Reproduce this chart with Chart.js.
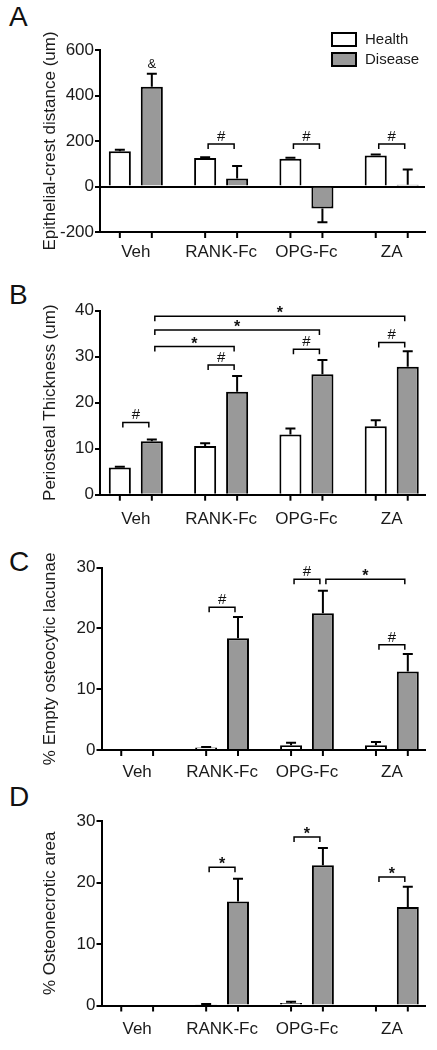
<!DOCTYPE html>
<html>
<head>
<meta charset="utf-8">
<script src="https://cdn.jsdelivr.net/npm/chart.js@4.4.1/dist/chart.umd.min.js"></script>
<style>
  body { margin: 0; background: #fff; width: 437px; height: 1050px; position: relative; overflow: hidden; }
  canvas { position: absolute; left: 0; }
  .letter { position: absolute; left: 9px; font: 28px/28px "Liberation Sans", Arial, sans-serif; color: #111; }
</style>
</head>
<body>
<div class="letter" style="top:3px">A</div>
<div class="letter" style="top:281px">B</div>
<div class="letter" style="top:548px">C</div>
<div class="letter" style="top:783px">D</div>
<canvas id="chartA" width="437" height="265" style="top:0px"></canvas>
<canvas id="chartB" width="437" height="265" style="top:265px"></canvas>
<canvas id="chartC" width="437" height="260" style="top:530px"></canvas>
<canvas id="chartD" width="437" height="260" style="top:790px"></canvas>
<script>
const groups = ['Veh', 'RANK-Fc', 'OPG-Fc', 'ZA'];
const seriesNames = ['Health', 'Disease'];

// A - epithelial-crest distance (um)
const crestHealth = [155, 125, 122, 136];
const crestHealthErr = [6, 4, 4, 5];
const crestDisease = [438, 35, -97, 8];
const crestDiseaseErr = [58, 55, 60, 67];
const crestTicks = [-200, 0, 200, 400, 600];

// B - periosteal thickness (um)
const thickHealth = [5.9, 10.6, 13.1, 14.9];
const thickHealthErr = [0.2, 0.6, 1.3, 1.3];
const thickDisease = [11.6, 22.4, 26.2, 27.8];
const thickDiseaseErr = [0.4, 3.4, 3.1, 3.4];
const thickTicks = [0, 10, 20, 30, 40];

// C - % empty osteocytic lacunae
const lacunaeHealth = [0, 0.4, 0.8, 0.8];
const lacunaeHealthErr = [0, 0.1, 0.4, 0.5];
const lacunaeDisease = [0, 18.4, 22.5, 12.9];
const lacunaeDiseaseErr = [0, 3.5, 3.7, 2.9];

// D - % osteonecrotic area
const necroHealth = [0, 0.2, 0.4, 0];
const necroHealthErr = [0, 0.05, 0.2, 0];
const necroDisease = [0, 16.9, 22.8, 16.0];
const necroDiseaseErr = [0, 3.7, 2.8, 3.3];
const pctTicks = [0, 10, 20, 30];

// significance marks: [group1, series1, group2, series2, level, mark]
const crestMarks = [[1, 0, 1, 1, 187, '#'], [2, 0, 2, 1, 187, '#'], [3, 0, 3, 1, 187, '#']];
const crestNotes = [[0, 1, 520, '&']];
const thickMarks = [
  [0, 0, 0, 1, 15.7, '#'], [1, 0, 1, 1, 28.2, '#'], [2, 0, 2, 1, 31.6, '#'], [3, 0, 3, 1, 33.1, '#'],
  [0, 1, 1, 1, 32.2, '*'], [0, 1, 2, 1, 35.8, '*'], [0, 1, 3, 1, 38.8, '*']
];
const lacunaeMarks = [[1, 0, 1, 1, 23.5, '#'], [2, 0, 2, 1, 28.1, '#'], [2, 1, 3, 1, 28.1, '*'], [3, 0, 3, 1, 17.3, '#']];
const necroMarks = [[1, 0, 1, 1, 22.5, '*'], [2, 0, 2, 1, 27.4, '*'], [3, 0, 3, 1, 20.9, '*']];

const FONT = '"Liberation Sans", Arial, sans-serif';
Chart.defaults.font.family = FONT;
Chart.defaults.color = '#1a1a1a';

const extras = {
  id: 'extras',
  afterDraw(chart, args, opts) {
    const {ctx, chartArea: area, scales: {y}} = chart;
    const barX = (s, g) => chart.getDatasetMeta(s).data[g].x;
    ctx.save();
    ctx.strokeStyle = '#000';
    ctx.lineWidth = 2;

    // x tick marks under every bar
    chart.data.datasets.forEach((ds, s) => {
      chart.getDatasetMeta(s).data.forEach(bar => {
        ctx.beginPath();
        ctx.moveTo(bar.x, area.bottom);
        ctx.lineTo(bar.x, area.bottom + 6);
        ctx.stroke();
      });
    });

    // error bars
    opts.errors.forEach((errs, s) => {
      chart.getDatasetMeta(s).data.forEach((bar, g) => {
        const v = chart.data.datasets[s].data[g].y;
        const e = errs[g];
        if (!e) return;
        const end = y.getPixelForValue(v < 0 ? v - e : v + e);
        ctx.beginPath();
        ctx.moveTo(bar.x, bar.y);
        ctx.lineTo(bar.x, end);
        ctx.moveTo(bar.x - 5, end);
        ctx.lineTo(bar.x + 5, end);
        ctx.stroke();
      });
    });

    // brackets
    ctx.lineWidth = 1.5;
    ctx.fillStyle = '#111';
    ctx.textAlign = 'center';
    ctx.textBaseline = 'alphabetic';
    (opts.marks || []).forEach(([g1, s1, g2, s2, level, mark]) => {
      const x1 = barX(s1, g1) + 3, x2 = barX(s2, g2) - 3;
      const yy = y.getPixelForValue(level);
      ctx.beginPath();
      ctx.moveTo(x1, yy + 5);
      ctx.lineTo(x1, yy);
      ctx.lineTo(x2, yy);
      ctx.lineTo(x2, yy + 5);
      ctx.stroke();
      if (mark === '*') {
        ctx.font = 'bold 16px ' + FONT;
        ctx.fillText(mark, (x1 + x2) / 2, yy + 2);
      } else {
        ctx.font = '15px ' + FONT;
        ctx.fillText(mark, (x1 + x2) / 2, yy - 3);
      }
    });
    (opts.notes || []).forEach(([g, s, level, mark]) => {
      ctx.font = '13px ' + FONT;
      ctx.fillText(mark, barX(s, g), y.getPixelForValue(level));
    });

    // legend
    if (opts.legend) {
      chart.data.datasets.forEach((ds, i) => {
        const top = 33 + i * 20;
        ctx.fillStyle = ds.backgroundColor;
        ctx.fillRect(332, top, 24, 13);
        ctx.lineWidth = 2;
        ctx.strokeRect(332, top, 24, 13);
        ctx.fillStyle = '#1a1a1a';
        ctx.font = '15px ' + FONT;
        ctx.textAlign = 'left';
        ctx.textBaseline = 'middle';
        ctx.fillText(ds.label, 365, top + 7);
      });
    }
    ctx.restore();
  }
};

function makeChart(id, cfg) {
  const mk = (vals) => vals.map((v, i) => ({x: i + 1, y: v}));
  return new Chart(document.getElementById(id), {
    type: 'bar',
    data: {
      datasets: [
        {label: seriesNames[0], data: mk(cfg.health), backgroundColor: '#ffffff', borderColor: '#000', borderWidth: 2},
        {label: seriesNames[1], data: mk(cfg.disease), backgroundColor: '#999999', borderColor: '#000', borderWidth: 2}
      ]
    },
    options: {
      responsive: false,
      animation: false,
      devicePixelRatio: 1,
      categoryPercentage: 0.75,
      barPercentage: 0.69,
      layout: {padding: {top: cfg.top, bottom: cfg.bottom, left: 0, right: 12}},
      plugins: {
        legend: {display: false},
        tooltip: {enabled: false},
        extras: {errors: cfg.errors, marks: cfg.marks, notes: cfg.notes, legend: cfg.legend}
      },
      scales: {
        x: {
          type: 'linear',
          min: 0.58,
          max: 4.39,
          offset: false,
          grid: {display: false, drawTicks: false},
          border: {color: '#000', width: 2},
          afterBuildTicks: s => { s.ticks = groups.map((g, i) => ({value: i + 1})); },
          ticks: {callback: v => groups[v - 1], padding: cfg.xPad, font: {size: 17}, maxRotation: 0, autoSkip: false},
          afterFit: s => { s.height = 30; }
        },
        y: {
          min: cfg.ticks[0],
          max: cfg.ticks[cfg.ticks.length - 1],
          afterBuildTicks: s => { s.ticks = cfg.ticks.map(v => ({value: v})); },
          grid: {
            color: c => (cfg.zeroLine && c.tick && c.tick.value === 0) ? '#000' : 'rgba(0,0,0,0)',
            lineWidth: 2,
            tickLength: 5,
            tickColor: '#000',
            tickWidth: 2
          },
          border: {color: '#000', width: 2},
          ticks: {padding: 1, font: {size: 17}},
          title: {display: true, text: cfg.title, font: {size: 17}, padding: {top: 40, bottom: 0}},
          afterFit: s => { s.width = cfg.left; }
        }
      }
    },
    plugins: [extras]
  });
}

makeChart('chartA', {
  health: crestHealth, disease: crestDisease, errors: [crestHealthErr, crestDiseaseErr],
  ticks: crestTicks, title: 'Epithelial-crest distance (um)', zeroLine: true,
  marks: crestMarks, notes: crestNotes, legend: true,
  top: 50, bottom: 3, left: 100, xPad: 10
});
makeChart('chartB', {
  health: thickHealth, disease: thickDisease, errors: [thickHealthErr, thickDiseaseErr],
  ticks: thickTicks, title: 'Periosteal Thickness (um)',
  marks: thickMarks,
  top: 45.7, bottom: 5.3, left: 100, xPad: 14
});
makeChart('chartC', {
  health: lacunaeHealth, disease: lacunaeDisease, errors: [lacunaeHealthErr, lacunaeDiseaseErr],
  ticks: pctTicks, title: '% Empty osteocytic lacunae',
  marks: lacunaeMarks,
  top: 37.7, bottom: 10, left: 101.5, xPad: 12
});
makeChart('chartD', {
  health: necroHealth, disease: necroDisease, errors: [necroHealthErr, necroDiseaseErr],
  ticks: pctTicks, title: '% Osteonecrotic area',
  marks: necroMarks,
  top: 31, bottom: 14.5, left: 101.5, xPad: 14
});
</script>
</body>
</html>
